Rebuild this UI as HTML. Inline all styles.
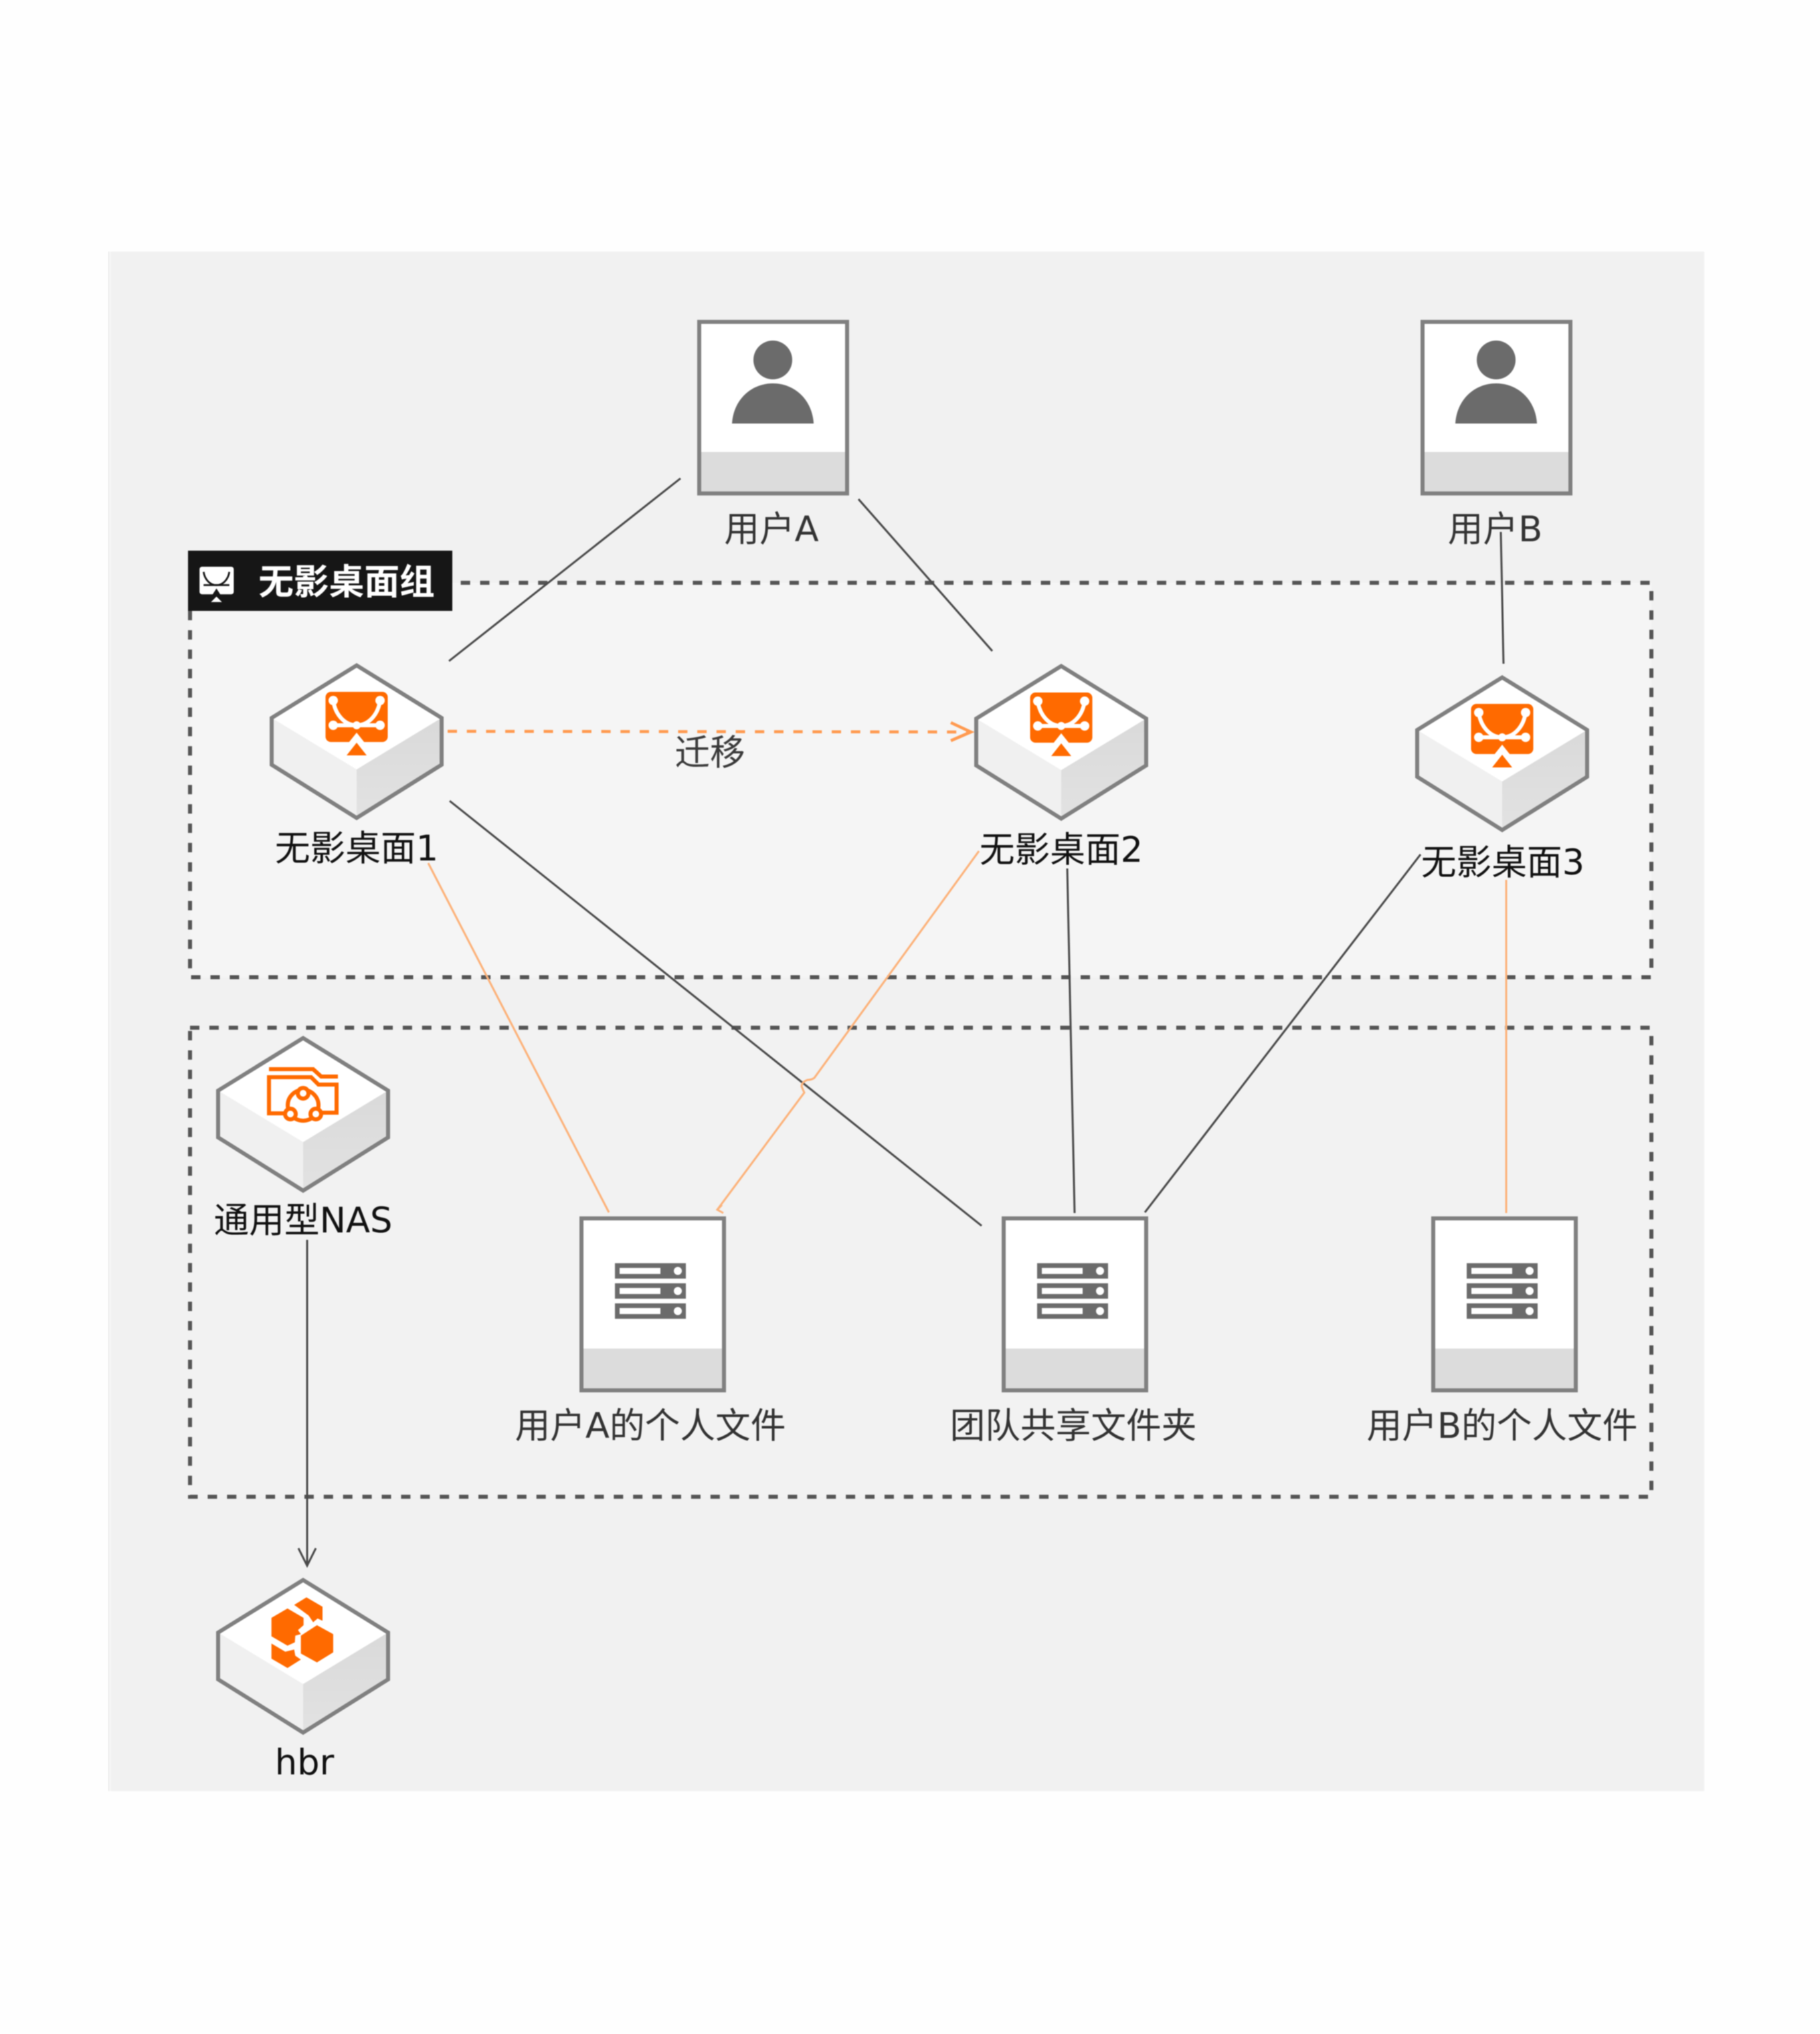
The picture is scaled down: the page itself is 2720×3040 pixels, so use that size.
<!DOCTYPE html>
<html><head><meta charset="utf-8"><style>
html,body{margin:0;padding:0;background:#fefefe}
svg{display:block;filter:blur(.7px)}
text{font-family:"DejaVu Sans","Noto Sans CJK SC",sans-serif;font-size:52.7px;text-anchor:middle}
</style></head><body>
<svg width="2720" height="3040" viewBox="0 0 2720 3040" xmlns="http://www.w3.org/2000/svg">
<defs>
<linearGradient id="rf" x1="0" y1="0" x2="0" y2="1"><stop offset="0" stop-color="#d9d9d9"/><stop offset="1" stop-color="#e2e2e2"/></linearGradient>
<g id="hex">
<polygon points="0,2.5 127,81 0,158 -127,81" fill="#fff"/>
<polygon points="-127,81 0,158 0,230.5 -127,151" fill="#f0f0f0"/>
<polygon points="127,81 0,158 0,230.5 127,151" fill="url(#rf)"/>
<polygon points="0,2.5 127,81 127,151 0,230.5 -127,151 -127,81" fill="none" stroke="#808080" stroke-width="6"/>
</g>
<g id="desk">
<rect x="-46.5" y="42" width="93" height="75" rx="8" fill="#ff6a00"/>
<polygon points="0,118 -15,137 15,137" fill="#ff6a00"/>
<polygon points="0,103 -12,118 12,118" fill="#fff"/>
<path d="M-35,55 C-32,76 -18,92 0,92 C18,92 32,76 35,55" fill="none" stroke="#fff" stroke-width="6"/>
<path d="M-35,92 H35" stroke="#fff" stroke-width="6"/>
<circle cx="-35" cy="55" r="7" fill="#fff"/><circle cx="35" cy="55" r="7" fill="#fff"/>
<circle cx="-35" cy="92" r="7" fill="#fff"/><circle cx="35" cy="92" r="7" fill="#fff"/><circle cx="0" cy="92" r="6" fill="#fff"/>
</g>
<g id="person">
<rect x="1045" y="481" width="221" height="256.5" fill="#fff"/>
<rect x="1045" y="675.5" width="221" height="62" fill="#dcdcdc"/>
<rect x="1045" y="481" width="221" height="256.5" fill="none" stroke="#808080" stroke-width="6"/>
<circle cx="1155" cy="538" r="29" fill="#6b6b6b"/>
<path d="M1094,633 C1096,598 1122,573 1155,573 C1188,573 1214,598 1216,633 Z" fill="#6b6b6b"/>
</g>
<g id="folder">
<rect x="869" y="1821" width="213" height="257" fill="#fff"/>
<rect x="869" y="2015.5" width="213" height="62.5" fill="#dcdcdc"/>
<rect x="869" y="1821" width="213" height="257" fill="none" stroke="#808080" stroke-width="6"/>
<rect x="919" y="1888" width="106" height="23" fill="#6b6b6b"/>
<rect x="919" y="1918" width="106" height="23" fill="#6b6b6b"/>
<rect x="919" y="1948" width="106" height="23" fill="#6b6b6b"/>
<rect x="926" y="1895" width="61" height="9" fill="#fff"/>
<rect x="926" y="1925" width="61" height="9" fill="#fff"/>
<rect x="926" y="1955" width="61" height="9" fill="#fff"/>
<circle cx="1013" cy="1899.5" r="6" fill="#fff"/>
<circle cx="1013" cy="1929.5" r="6" fill="#fff"/>
<circle cx="1013" cy="1959.5" r="6" fill="#fff"/>
</g>
</defs>

<rect width="2720" height="3040" fill="#fefefe"/>
<rect x="162" y="376" width="1.5" height="2301" fill="#e6e6e6"/>
<rect x="165" y="376" width="2382" height="2301" fill="#f1f1f1"/>

<!-- groups -->
<rect x="284" y="871" width="2184" height="589.5" fill="#f5f5f5" stroke="#555" stroke-width="6" stroke-dasharray="14 14.9"/>
<rect x="284" y="1536" width="2184" height="701" fill="#f2f2f2" stroke="#555" stroke-width="6" stroke-dasharray="14 14.9"/>

<!-- banner -->
<rect x="281" y="823" width="395" height="90" fill="#161616"/>
<g transform="translate(323.5,824.5) scale(.55)">
<rect x="-46" y="41" width="93" height="75" rx="7" fill="#fff"/>
<polygon points="0,122 -15,137 15,137" fill="#fff"/>
<polygon points="0,100 -11,117 11,117" fill="#161616"/>
<path d="M-35,55 C-32,75 -18,91 0,91 C18,91 32,75 35,55" fill="none" stroke="#161616" stroke-width="5"/>
<path d="M-35,91 H35" stroke="#161616" stroke-width="5"/>
</g>
<text x="518" y="888" fill="#fff" font-weight="700">无影桌面组</text>

<!-- connectors -->
<g fill="none" stroke="#4a4a4a" stroke-width="3">
<path d="M1017,715 L671,988"/>
<path d="M1283,746 L1483,973"/>
<path d="M2243,795 L2247,992"/>
<path d="M672,1197 L1467,1832"/>
<path d="M1595,1298 L1606,1813"/>
<path d="M2123,1277 L1711,1812"/>
<path d="M459,1853 V2338"/>
<path d="M446,2314 L459,2340 L472,2314"/>
</g>
<g fill="none" stroke="#fcb27a" stroke-width="3">
<path d="M640,1290 L910,1812"/>
<path d="M1463,1272 L1217,1611 Q1213,1614 1207,1614 Q1198,1617 1198,1624 L1202,1633 L1072,1808"/>
<path d="M1079,1801 L1072,1808 L1081,1813"/>
<path d="M2251,1315 V1813"/>
</g>
<path d="M669,1093 L1446,1094" fill="none" stroke="#ff9a50" stroke-width="4.5" stroke-dasharray="14 14.7"/>
<path d="M1421,1080 L1451,1094 L1421,1107" fill="none" stroke="#ff9a50" stroke-width="4.5"/>

<!-- users -->
<use href="#person"/>
<use href="#person" x="1081"/>
<text x="1153" y="809" fill="#333">用户A</text>
<text x="2234.5" y="809" fill="#333">用户B</text>

<!-- desktops -->
<g transform="translate(533,992)"><use href="#hex"/><use href="#desk"/></g>
<g transform="translate(1586,993)"><use href="#hex"/><use href="#desk"/></g>
<g transform="translate(2245,1010)"><use href="#hex"/><use href="#desk"/></g>
<text x="533" y="1286" fill="#111">无影桌面1</text>
<text x="1586" y="1288" fill="#111">无影桌面2</text>
<text x="2246" y="1307" fill="#111">无影桌面3</text>
<text x="1061" y="1143" fill="#3a3a3a">迁移</text>

<!-- NAS -->
<g transform="translate(453,1549)"><use href="#hex"/>
<g fill="none" stroke="#ff6a00" stroke-width="6">
<path d="M-51,49 H15 L27,60 H52"/>
<path d="M-25,115 H-51 V61 H12 L23,72 H50 V114 H25"/>
<circle cx="0" cy="103" r="23"/>
<circle cx="0" cy="85" r="8" fill="#fff"/>
<circle cx="-19" cy="116" r="8" fill="#fff"/>
<circle cx="19" cy="116" r="8" fill="#fff"/>
</g></g>
<text x="453" y="1842" fill="#111">通用型NAS</text>

<!-- folders -->
<use href="#folder"/>
<use href="#folder" x="631"/>
<use href="#folder" x="1273"/>
<text x="972" y="2149" fill="#333">用户A的个人文件</text>
<text x="1604" y="2149" fill="#333">团队共享文件夹</text>
<text x="2245" y="2149" fill="#333">用户B的个人文件</text>

<!-- hbr -->
<g transform="translate(453,2359)"><use href="#hex"/>
<g transform="scale(.3333) translate(-520,-118)" fill="#ff6a00">
<polygon points="450,253 522,295 522,328 497,350 510,368 485,375 483,405 450,420 378,378 378,295"/>
<polygon points="582,328 655,368 655,450 582,495 510,455 510,375"/>
<polygon points="535,203 607,245 607,308 585,298 565,315 545,285 480,237"/>
<polygon points="378,410 440,447 480,437 485,465 510,482 450,520 378,478"/>
</g></g>
<text x="455" y="2652" fill="#111">hbr</text>
</svg>
</body></html>
